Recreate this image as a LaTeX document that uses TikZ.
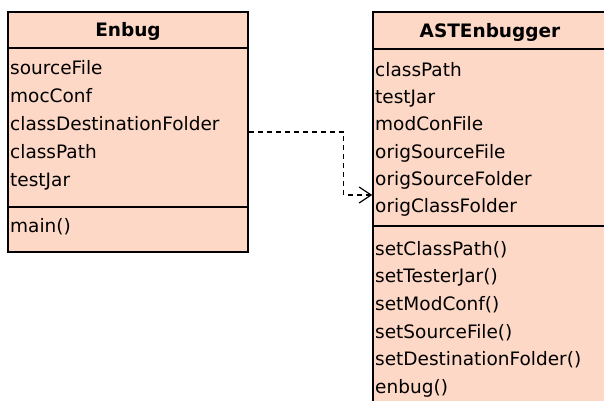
\documentclass[tikz,border=0pt]{standalone}
\usepackage{fontspec}
\setmainfont{DejaVu Sans}
\usetikzlibrary{arrows.meta}

\definecolor{classfill}{RGB}{253,216,198}

\begin{document}
\begin{tikzpicture}[x=1pt, y=-1pt,
        classbox/.style={draw, line width=1.6pt, fill=classfill, inner sep=0pt},
        member/.style={anchor=base west, inner sep=0pt, font=\fontsize{18.5}{22}\selectfont},
        classtitle/.style={anchor=base, inner sep=0pt, font=\fontsize{18.5}{22}\selectfont\bfseries},
        depend/.style={line width=1.2pt, dash pattern=on 5pt off 4pt,
            -{Straight Barb[length=12pt, width=16pt, line width=1.2pt]}}]

        % Page frame
        \useasboundingbox (0,0) rectangle (604,400);
        \clip (0,0) rectangle (604,400);

        % First class (Enbug)
        \node[classbox, minimum width=240pt, minimum height=240pt] (enbug) at (128,132) {};
        \draw[line width=1.6pt] (enbug.west |- 0,48) -- (enbug.east |- 0,48);
        \draw[line width=1.6pt] (enbug.west |- 0,207) -- (enbug.east |- 0,207);
        \node[classtitle] (enbugtitle) at (128,36) {Enbug};

        % Attributes of Enbug
        \foreach \y/\name in {74/sourceFile, 102/mocConf, 130/classDestinationFolder,
                158/classPath, 186/testJar} {
            \node[member] (e-\name) at (10,\y) {\name};
        }
        % Operations of Enbug
        \node[member] (e-main) at (10,232) {main()};

        % Second class (ASTEnbugger), runs off the page
        \node[classbox, minimum width=240pt, minimum height=420pt] (astenbugger) at (493,222) {};
        \draw[line width=1.6pt] (astenbugger.west |- 0,49) -- (astenbugger.east |- 0,49);
        \draw[line width=1.6pt] (astenbugger.west |- 0,226) -- (astenbugger.east |- 0,226);
        \node[classtitle] (asttitle) at (490,37) {ASTEnbugger};

        % Attributes of ASTEnbugger
        \foreach \y/\name in {76/classPath, 103/testJar, 130.5/modConFile, 158/origSourceFile,
                185/origSourceFolder, 212.5/origClassFolder} {
            \node[member] (a-\name) at (375,\y) {\name};
        }
        % Operations of ASTEnbugger
        \foreach \y/\name in {255/setClassPath, 282.5/setTesterJar, 310/setModConf,
                338/setSourceFile, 365.5/setDestinationFolder, 393/enbug} {
            \node[member] (a-\name) at (375,\y) {\name()};
        }

        % Dependency
        \coordinate (astin) at (astenbugger.west |- 0,195);
        \draw[depend] (enbug.east) -- ++(95,0) |- (astin);
    \end{tikzpicture}
\end{document}
